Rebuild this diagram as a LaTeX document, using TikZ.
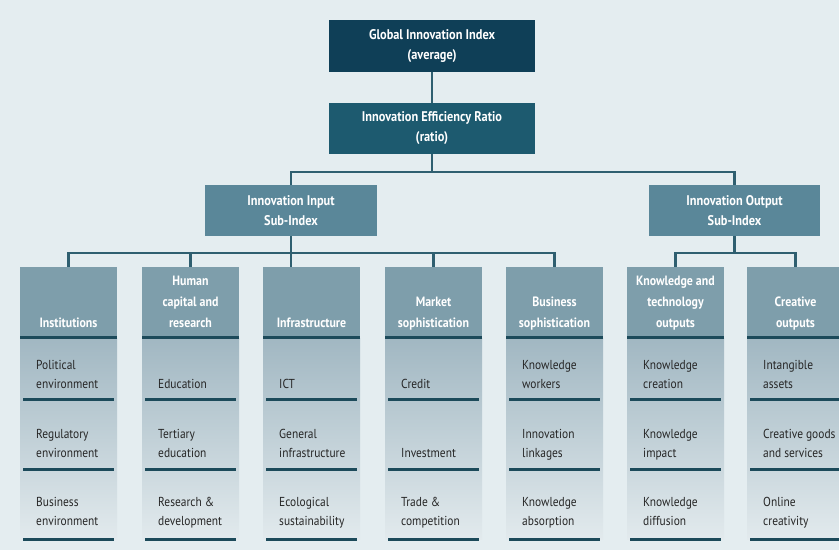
\documentclass[tikz,border=0pt]{standalone}
\usepackage{fontspec}
\setmainfont{PT Sans}[FakeStretch=0.88]
\usetikzlibrary{positioning}

\definecolor{bgc}{HTML}{E4EDF0}
\definecolor{giic}{HTML}{0F3F57}
\definecolor{ierc}{HTML}{1D5A6F}
\definecolor{subc}{HTML}{5A8799}
\definecolor{headc}{HTML}{7E9EAB}
\definecolor{celltop}{HTML}{A1B7C2}
\definecolor{cellbot}{HTML}{E2EAED}
\definecolor{rulec}{HTML}{1C4A5A}
\definecolor{linkc}{HTML}{2F5F70}

\tikzset{
  box/.style={rectangle, text=white, align=center, inner sep=0pt,
    font=\fontsize{14}{20}\selectfont\bfseries},
  giibox/.style={box, fill=giic, minimum width=206pt, minimum height=52pt},
  ierbox/.style={box, fill=ierc, minimum width=206pt, minimum height=51pt},
  subbox/.style={box, fill=subc, minimum width=172pt, minimum height=51pt},
  colhead/.style={rectangle, fill=headc, minimum width=97pt, minimum height=70pt, inner sep=0pt},
  hdtext/.style={text=white, align=center, inner sep=0pt,
    font=\fontsize{13.5}{21}\selectfont\bfseries, execute at end node=\strut},
  celltext/.style={text=black!85, align=left, inner sep=0pt,
    font=\fontsize{13}{19.5}\selectfont, execute at end node=\strut},
  rule/.style={draw=rulec, line width=3pt},
  link/.style={draw=linkc, line width=2.5pt}
}

\begin{document}
\begin{tikzpicture}[x=1pt, y=-1pt]
\useasboundingbox (0,0) rectangle (839,550);
\fill[bgc] (0,0) rectangle (839,550);

% index levels
\node (gii) [giibox] at (432,46) {Global Innovation Index\\(average)};
\node (ier) [ierbox] at (432,128.5) {Innovation Efficiency Ratio\\(ratio)};
\node (input) [subbox] at (291,210.5) {Innovation Input\\Sub-Index};
\node (output) [subbox, minimum width=171pt] at (734.5,210.5) {Innovation Output\\Sub-Index};

% pillars
\foreach \n/\l/\hd/\ta/\tb/\tc in {
  1/20/{Institutions}/{Political\\environment}/{Regulatory\\environment}/{Business\\environment},
  2/142/{Human\\capital and\\research}/{Education}/{Tertiary\\education}/{Research \&\\development},
  3/263/{Infrastructure}/{ICT}/{General\\infrastructure}/{Ecological\\sustainability},
  4/385/{Market\\sophistication}/{Credit}/{Investment}/{Trade \&\\competition},
  5/506/{Business\\sophistication}/{Knowledge\\workers}/{Innovation\\linkages}/{Knowledge\\absorption},
  6/627/{Knowledge and\\technology\\outputs}/{Knowledge\\creation}/{Knowledge\\impact}/{Knowledge\\diffusion},
  7/747/{Creative\\outputs}/{Intangible\\assets}/{Creative goods\\and services}/{Online\\creativity}}
{
  \node (h\n) [colhead] at (\l+48.5,302) {};
  \node (ht\n) [hdtext, above=3pt of h\n.south] {\hd};
  \shade[top color=celltop, bottom color=cellbot] (\l,338) rectangle ++(97,201);
  \draw[rule] (\l,337) -- ++(97,0);
  \foreach \y in {399,469,539}
    \draw[rule] (\l+3,\y) -- ++(91,0);
  \node (t\n-a) [celltext, anchor=south west] at (\l+16,395) {\ta};
  \node (t\n-b) [celltext, anchor=south west] at (\l+16,464) {\tb};
  \node (t\n-c) [celltext, anchor=south west] at (\l+16,532) {\tc};
}

% connectors
\coordinate (tbar) at (432,172);
\coordinate (ibar) at (291,253);
\coordinate (obar) at (734.5,253);
\draw[link] (gii) -- (ier);
\draw[link] (ier) -- (tbar);
\draw[link] (input) |- (tbar) -| (output);
\draw[link] (input.south) -- (input.south |- h3.north);
\draw[link] (h1) |- (ibar) -| (h5);
\draw[link] (h2) -- (h2 |- ibar);
\draw[link] (h4) -- (h4 |- ibar);
\draw[link] (output) -- (obar);
\draw[link] (h6) |- (obar) -| (h7);
\end{tikzpicture}
\end{document}
